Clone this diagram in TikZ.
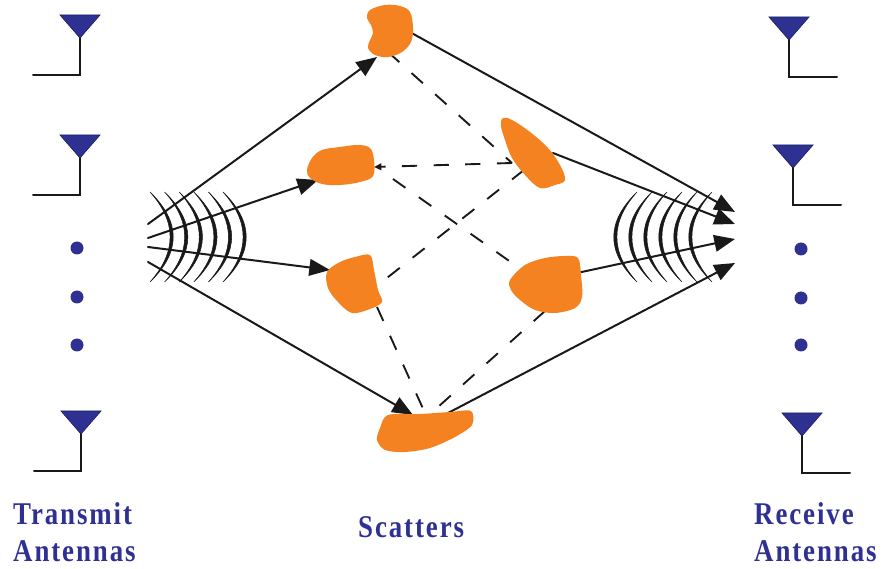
\documentclass[tikz,border=0pt]{standalone}
\usepackage{fontspec}
\setmainfont{Liberation Serif}
\newfontfamily\capfont[FakeStretch=0.85,LetterSpace=6]{Liberation Serif Bold}
\usetikzlibrary{arrows.meta}

\definecolor{scatOrange}{HTML}{F58220}
\definecolor{antNavy}{HTML}{2E3192}
\definecolor{antEdge}{HTML}{1F2266}

\tikzset{
  wire/.style={line width=1.7pt, black!90, line cap=round},
  ray/.style={wire, -{Triangle[length=0.62cm,width=0.5cm]}},
  link/.style={line width=1.6pt, black!90, dash pattern=on 13pt off 14pt},
  smalltip/.style={-{Triangle[length=0.22cm,width=0.2cm]}},
  scatterer/.style={fill=scatOrange, draw=none},
  wavefront/.style={fill=black!90, draw=black!90, line width=0.45pt},
  caption/.style={text=antNavy, font=\capfont\fontsize{27}{31}\selectfont,
                  anchor=base west, inner sep=0pt, align=left},
  dotmark/.style={circle, fill=antNavy, inner sep=0pt, minimum size=0.39cm},
  txant/.pic={
    \fill[antNavy, draw=antEdge, line width=0.6pt] (-20,0) -- (20,0) -- (0,23) -- cycle;
    \draw[wire] (0,23) -- (0,60) -- (-47,60);
  },
  rxant/.pic={
    \fill[antNavy, draw=antEdge, line width=0.6pt] (-20,0) -- (20,0) -- (0,23) -- cycle;
    \draw[wire] (0,23) -- (0,60) -- (48,60);
  }
}

\begin{document}
\begin{tikzpicture}[x=0.03cm, y=-0.03cm]
  \path[use as bounding box] (0,0) rectangle (884,569);

  % transmit antennas
  \pic at (80,15)  {txant};
  \pic at (80,135) {txant};
  \pic at (81,411) {txant};
  \node[dotmark] (tdot1) at (77,248) {};
  \node[dotmark] (tdot2) at (77,297) {};
  \node[dotmark] (tdot3) at (77,345) {};

  % receive antennas
  \pic at (789,17)  {rxant};
  \pic at (793,145) {rxant};
  \pic at (802,413) {rxant};
  \node[dotmark] (rdot1) at (801,249) {};
  \node[dotmark] (rdot2) at (801,298) {};
  \node[dotmark] (rdot3) at (801,345) {};

  % outgoing wavefronts
  \foreach \i in {0,...,5} {
    \pgfmathsetmacro{\xo}{150+14.6*\i}
    \filldraw[wavefront] (\xo,192) .. controls (\xo+31,222) and (\xo+31,252) .. (\xo,282)
      .. controls (\xo+26.8,252) and (\xo+26.8,222) .. (\xo,192) -- cycle;
  }
  % incoming wavefronts
  \foreach \i in {0,...,5} {
    \pgfmathsetmacro{\xo}{637+15*\i}
    \filldraw[wavefront] (\xo,192) .. controls (\xo-31,222) and (\xo-31,252) .. (\xo,282)
      .. controls (\xo-26.8,252) and (\xo-26.8,222) .. (\xo,192) -- cycle;
  }

  % ray end points
  \coordinate (tx1) at (148,224);
  \coordinate (tx2) at (148,238);
  \coordinate (tx3) at (148,247);
  \coordinate (tx4) at (148,262);
  \coordinate (rx1) at (735,212);
  \coordinate (rx2) at (735,224);
  \coordinate (rx3) at (735,239);
  \coordinate (rx4) at (735,263);

  \coordinate (s1in)  at (377,57);
  \coordinate (s1out) at (408,31);
  \coordinate (s1lo)  at (388,52);
  \coordinate (s2in)  at (318,180);
  \coordinate (s2r)   at (374,167);
  \coordinate (s2lo)  at (393,179);
  \coordinate (s3out) at (553,153);
  \coordinate (s3l)   at (512,163);
  \coordinate (s3lo)  at (524,170);
  \coordinate (s4in)  at (330,270);
  \coordinate (s4r)   at (378,285);
  \coordinate (s4lo)  at (377,307);
  \coordinate (s5out) at (577,273);
  \coordinate (s5l)   at (522,270);
  \coordinate (s5lo)  at (545,311);
  \coordinate (s6in)  at (413,415);
  \coordinate (s6top) at (425,413);
  \coordinate (s6mid) at (438,407);
  \coordinate (s6out) at (448,413);

  % scattered paths between scatterers
  \draw[link] (s1lo) -- (s3l);
  \draw[link, smalltip] (s3l) -- (s2r);
  \draw[link] (s2lo) -- (s5l);
  \draw[link] (s3lo) -- (s4r);
  \draw[link] (s4lo) -- (s6top);
  \draw[link] (s5lo) -- (s6mid);

  % direct rays
  \draw[ray] (tx1) -- (s1in);
  \draw[ray] (tx2) -- (s2in);
  \draw[ray] (tx3) -- (s4in);
  \draw[ray] (tx4) -- (s6in);
  \draw[ray] (s1out) -- (rx1);
  \draw[ray] (s3out) -- (rx2);
  \draw[ray] (s5out) -- (rx3);
  \draw[ray] (s6out) -- (rx4);

  % scatterers
  \fill[scatterer] plot[smooth cycle, tension=0.6] coordinates {
    (370,10) (385,5) (400,6) (410,12) (413,28) (411,42) (402,52) (388,57)
    (375,55) (368,48) (370,40) (373,33) (371,25) (367,18)};
  \fill[scatterer] plot[smooth cycle, tension=0.6] coordinates {
    (312,158) (322,150) (340,147) (358,145) (370,148) (374,160) (373,176)
    (360,182) (340,185) (322,184) (310,178) (307,170)};
  \fill[scatterer] plot[smooth cycle, tension=0.6] coordinates {
    (503,118) (512,120) (530,132) (548,148) (560,165) (565,180) (555,185)
    (540,188) (525,175) (512,158) (505,140) (501,126)};
  \fill[scatterer] plot[smooth cycle, tension=0.55] coordinates {
    (327,272) (340,262) (355,257) (370,255) (374,270) (378,290) (382,302)
    (370,309) (352,313) (338,302) (328,288)};
  \fill[scatterer] plot[smooth cycle, tension=0.55] coordinates {
    (510,280) (525,265) (545,258) (565,256) (578,258) (581,275) (582,297)
    (575,308) (555,313) (535,310) (520,300) (511,290)};
  \fill[scatterer] plot[smooth cycle, tension=0.5] coordinates {
    (388,415) (420,414) (450,412) (471,411) (472,425) (455,437) (430,448)
    (405,452) (385,450) (377,440) (380,428)};

  % captions (base anchor sits on the last line)
  \node[caption] (txlabel) at (13,561) {Transmit\\Antennas};
  \node[caption] (sclabel) at (358,537) {Scatters};
  \node[caption] (rxlabel) at (754,561) {Receive\\Antennas};
\end{tikzpicture}
\end{document}
